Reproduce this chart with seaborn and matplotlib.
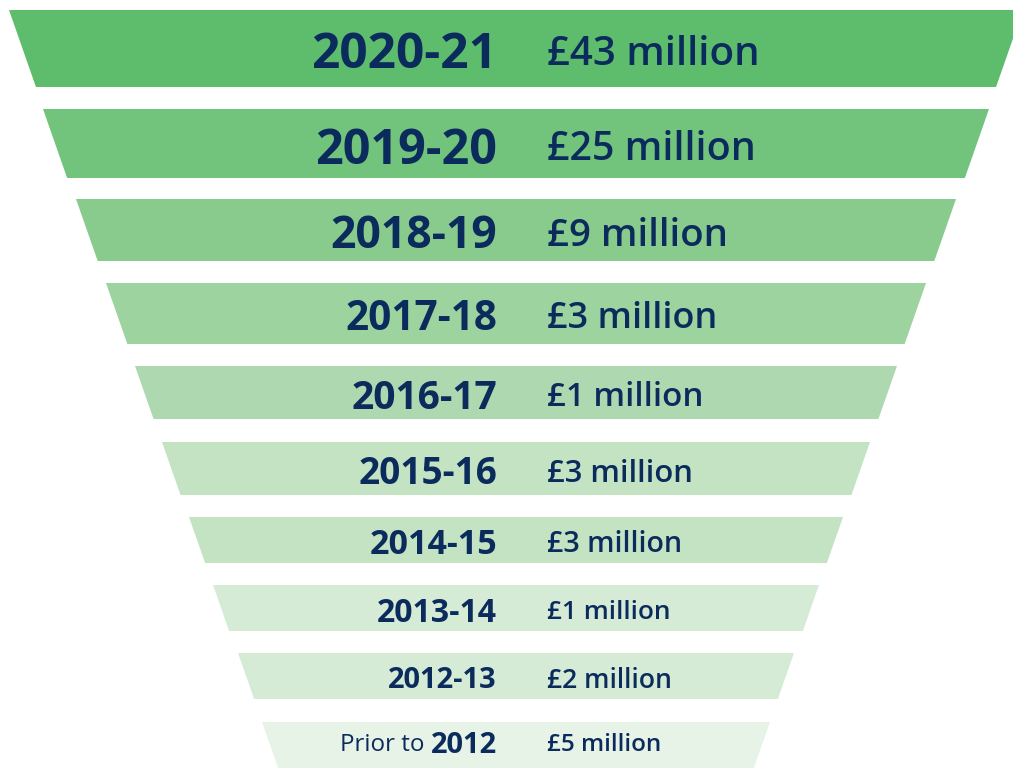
import matplotlib
matplotlib.use("Agg")
import matplotlib.pyplot as plt
import seaborn as sns

# data
PERIODS = ["2020-21", "2019-20", "2018-19", "2017-18", "2016-17",
           "2015-16", "2014-15", "2013-14", "2012-13", "2012"]
AMOUNTS = [43, 25, 9, 3, 1, 3, 3, 1, 2, 5]  # £ million

# layout (pixels, figure is 1013x768)
BAND_TOP = [10, 109, 199, 283, 366, 442, 517, 585, 653, 722]
BAND_H = [77, 69, 62, 61, 53, 53, 46, 46, 46, 50]
HALF_W = [507, 473, 440, 410, 381, 354, 327, 303, 278, 254]
SLOPE = 0.35
CX = 516
YEAR_PX = [49.5, 48.5, 44.5, 40.5, 39, 37, 34, 32, 29, 29]
AMT_PX = [40.3, 39.4, 38.4, 36, 33.2, 31, 28.6, 26.3, 26.6, 24.1]
COLORS = ["#5ebd6c", "#72c47d", "#89cb8d", "#9dd39e", "#aed9b0",
          "#c3e3c3", "#c3e3c3", "#d5ebd6", "#d5ebd6", "#e6f3e6"]
NAVY = "#0b2b5c"

sns.set_theme(style="white")
plt.rcParams["font.family"] = ["Open Sans", "Noto Sans", "DejaVu Sans"]

fig = plt.figure(figsize=(10.13, 7.68), dpi=100)
ax = fig.add_axes([0, 0, 1, 1])
ax.set_xlim(0, 1013)
ax.set_ylim(768, 0)
ax.axis("off")

px2pt = 72 / 100
last = len(PERIODS) - 1
for i, (period, amt) in enumerate(zip(PERIODS, AMOUNTS)):
    top, h, hw = BAND_TOP[i], BAND_H[i], HALF_W[i]
    bw = hw - SLOPE * h
    ax.fill([CX - hw, CX + hw, CX + bw, CX - bw],
            [top, top, top + h, top + h], color=COLORS[i], lw=0)
    yc = top + (20 if i == last else h / 2 + 1.5)
    ax.text(497, yc, period, ha="right", va="center_baseline", color=NAVY,
            fontsize=YEAR_PX[i] * px2pt, fontweight="bold")
    if i == last:
        ax.text(425, yc, "Prior to", ha="right", va="center_baseline", color=NAVY,
                fontsize=AMT_PX[i] * px2pt)
    ax.text(547, yc, f"£{amt} million", ha="left", va="center_baseline", color=NAVY,
            fontsize=AMT_PX[i] * px2pt, fontweight="semibold")

fig.savefig("out.png", dpi=100)
